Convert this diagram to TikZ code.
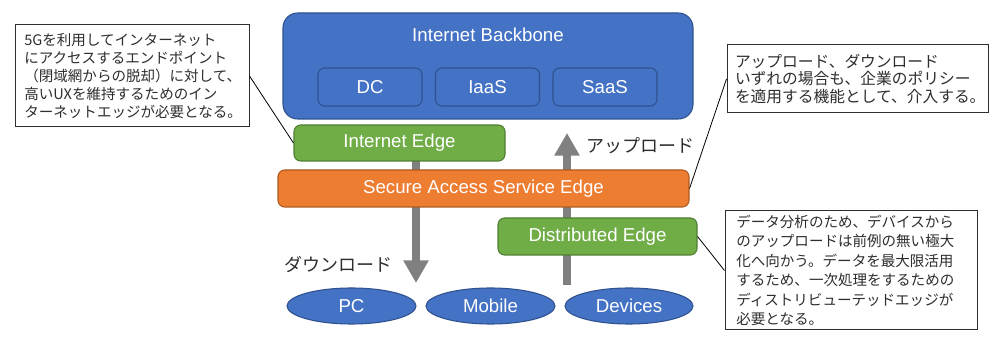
\documentclass[tikz,border=0pt]{standalone}
\usepackage{fontspec}
\setmainfont{Liberation Sans}
\newfontfamily\jp{Noto Sans CJK JP}
\usetikzlibrary{arrows.meta,shapes.geometric}
\definecolor{bblue}{HTML}{4472C4}
\definecolor{bblueD}{HTML}{2F528F}
\definecolor{bgreen}{HTML}{70AD47}
\definecolor{bgreenD}{HTML}{507E32}
\definecolor{borange}{HTML}{ED7D31}
\definecolor{borangeD}{HTML}{AE5A21}
\definecolor{agray}{HTML}{808080}
\definecolor{txtdark}{HTML}{2E2E2E}
\tikzset{
  box/.style={rounded corners=5pt, line width=0.8pt, text=white, font=\fontsize{14}{16}\selectfont, inner sep=0pt},
  bluebox/.style={box, fill=bblue, draw=bblueD},
  greenbox/.style={box, fill=bgreen, draw=bgreenD},
  orangebox/.style={box, fill=borange, draw=borangeD},
  devell/.style={ellipse, fill=bblue, draw=bblueD, line width=0.8pt, text=white, font=\fontsize{14}{16}\selectfont, inner sep=0pt},
  callout/.style={draw=txtdark, line width=0.75pt, fill=white, text=txtdark, align=left, inner ysep=0pt},
  leader/.style={draw=black, line width=0.6pt},
  bigarrow/.style={draw=agray, line width=5.5pt, -{Triangle[width=18pt,length=17pt]}},
  dirlabel/.style={text=txtdark, font=\jp\fontsize{13.5}{16}\selectfont, inner sep=0pt}
}
\begin{document}
\begin{tikzpicture}[x=0.75pt,y=-0.75pt]
\useasboundingbox[fill=white] (0,0) rectangle (1000,348);

% arrows (behind boxes)
\coordinate (dlstart) at (416,155);
\coordinate (dltip) at (416,283);
\coordinate (ulstart) at (567,285);
\coordinate (ultip) at (567,133);
\draw[bigarrow] (dlstart) -- (dltip);
\draw[bigarrow] (ulstart) -- (ultip);

% backbone
\node[bluebox, rounded corners=11pt, minimum width=307.5pt, minimum height=79.5pt] (bb) at (488,66) {};
\node[text=white, font=\fontsize{14}{16}\selectfont, inner sep=0pt] (bbt) at (488,35) {Internet Backbone};
\node[bluebox, minimum width=78pt, minimum height=28.5pt] (dc) at (370,87) {DC};
\node[bluebox, minimum width=78pt, minimum height=28.5pt] (iaas) at (487.5,87) {IaaS};
\node[bluebox, minimum width=78pt, minimum height=28.5pt] (saas) at (605,87) {SaaS};

% edges
\node[greenbox, minimum width=158.25pt, minimum height=27pt] (ie) at (399.5,143) {Internet Edge};
\node[orangebox, minimum width=308.25pt, minimum height=27.75pt] (sase) at (483.5,188.5) {Secure Access Service Edge};
\node[greenbox, minimum width=149.25pt, minimum height=27.75pt] (de) at (597.5,236.5) {Distributed Edge};

% endpoints
\node[devell, minimum width=96.75pt, minimum height=27pt] (pc) at (351.5,306) {PC};
\node[devell, minimum width=96.75pt, minimum height=27pt] (mob) at (490.5,306) {Mobile};
\node[devell, minimum width=96pt, minimum height=27pt] (dev) at (629,306) {Devices};

% direction labels
\node[dirlabel] (dl) at (338,265) {ダウンロード};
\node[dirlabel] (ul) at (640,146) {アップロード};

% callouts
\node[callout, inner xsep=7pt, minimum width=175.5pt, minimum height=76.5pt, text width=161.5pt,
      font=\jp\fontsize{10.9}{13.4}\selectfont] (c1) at (132,76)
{5Gを利用してインターネット\\にアクセスするエンドポイント\\（閉域網からの脱却）に対して、\\高いUXを維持するためのイン\\ターネットエッジが必要となる。};
\node[callout, inner xsep=6pt, minimum width=195.75pt, minimum height=51pt, text width=183.75pt,
      font=\jp\fontsize{11.8}{13.2}\selectfont] (c2) at (857.5,79)
{アップロード、ダウンロード\\いずれの場合も、企業のポリシー\\を適用する機能として、介入する。};
\node[callout, inner xsep=8.5pt, minimum width=189pt, minimum height=89.25pt, text width=172pt,
      font=\jp\fontsize{10.9}{14.6}\selectfont] (c3) at (851,270.5)
{データ分析のため、デバイスから\\のアップロードは前例の無い極大\\化へ向かう。データを最大限活用\\するため、一次処理をするための\\ディストリビューテッドエッジが\\必要となる。};

% leader lines
\draw[leader] (c1.east) -- (ie.west);
\draw[leader] (c2.west) -- (sase.east);
\draw[leader] (c3.west) -- (de.east);
\end{tikzpicture}
\end{document}
